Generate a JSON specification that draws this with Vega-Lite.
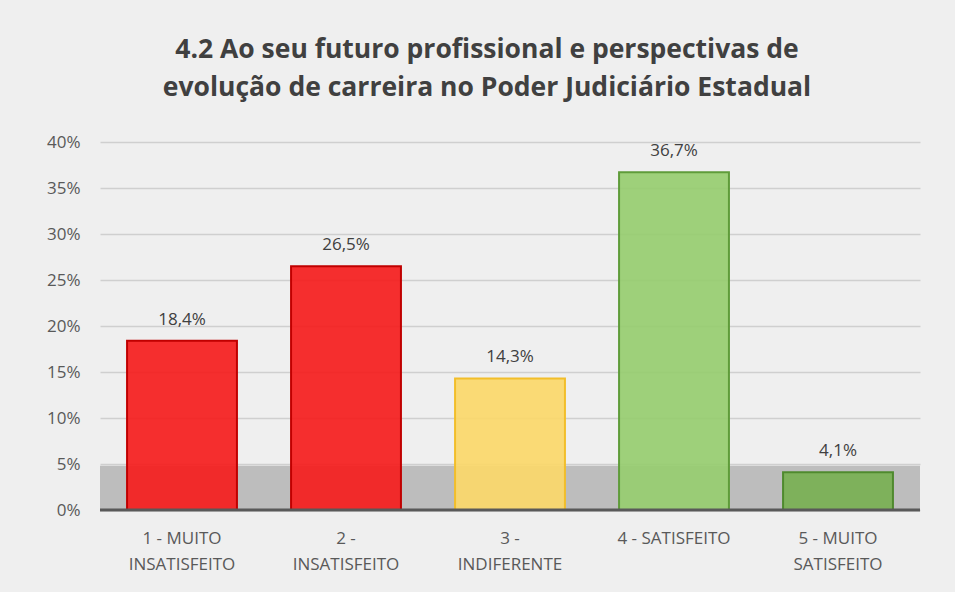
{
  "$schema": "https://vega.github.io/schema/vega-lite/v6.json",
  "autosize": {"type": "none"},
  "width": 820,
  "height": 368,
  "padding": {"left": 100, "top": 142, "right": 35, "bottom": 82},
  "background": "#efefef",
  "config": {
    "locale": {"number": {"decimal": ",", "thousands": ".", "grouping": [3], "currency": ["R$", ""]}},
    "font": "Open Sans",
    "view": {"stroke": null},
    "axisY": {"grid": true, "gridColor": "#cfcfcf", "gridWidth": 1.5, "gridOpacity": 1}
  },
  "title": {
    "text": ["4.2  Ao seu futuro profissional e perspectivas de", "evolução de carreira no Poder Judiciário Estadual"],
    "fontSize": 26.5,
    "fontWeight": "bold",
    "color": "#404040",
    "lineHeight": 38,
    "offset": 32,
    "dx": -23,
    "anchor": "middle"
  },
  "data": {
    "values": [
      {"categoria": "1 - MUITO INSATISFEITO", "percentual": 0.184, "grupo": "insatisfeito"},
      {"categoria": "2 - INSATISFEITO", "percentual": 0.265, "grupo": "insatisfeito"},
      {"categoria": "3 - INDIFERENTE", "percentual": 0.143, "grupo": "indiferente"},
      {"categoria": "4 - SATISFEITO", "percentual": 0.367, "grupo": "satisfeito"},
      {"categoria": "5 - MUITO SATISFEITO", "percentual": 0.041, "grupo": "satisfeito"}
    ]
  },
  "layer": [
    {
      "data": {"values": [{}]},
      "mark": {"type": "rect", "color": "#bdbdbd"},
      "encoding": {
        "y": {
          "datum": 0, "type": "quantitative", "scale": {"domain": [0, 0.4]},
          "axis": {
            "title": null, "format": ".0%", "values": [0, 0.05, 0.1, 0.15, 0.2, 0.25, 0.3, 0.35, 0.4],
            "grid": true, "ticks": false, "domain": false, "labelFontSize": 17, "labelColor": "#595959", "labelPadding": 20
          }
        },
        "y2": {"datum": 0.048}
      }
    },
    {
      "mark": {"type": "bar", "strokeWidth": 2, "fillOpacity": 0.92},
      "encoding": {
        "x": {
          "field": "categoria", "type": "nominal", "sort": null,
          "scale": {"paddingInner": 0.33, "paddingOuter": 0.165},
          "axis": {
            "title": null, "ticks": false, "domain": false, "labelAngle": 0,
            "labelFontSize": 17, "labelColor": "#595959", "labelPadding": 20, "labelLineHeight": 26,
            "labelBaseline": "top",
            "labelExpr": "datum.value == '1 - MUITO INSATISFEITO' ? ['1 - MUITO', 'INSATISFEITO'] : datum.value == '2 - INSATISFEITO' ? ['2 -', 'INSATISFEITO'] : datum.value == '3 - INDIFERENTE' ? ['3 -', 'INDIFERENTE'] : datum.value == '5 - MUITO SATISFEITO' ? ['5 - MUITO', 'SATISFEITO'] : datum.value"
          }
        },
        "y": {
          "field": "percentual", "type": "quantitative",
          "scale": {"domain": [0, 0.4]},
          "axis": {
            "title": null, "format": ".0%", "values": [0, 0.05, 0.1, 0.15, 0.2, 0.25, 0.3, 0.35, 0.4],
            "grid": true, "ticks": false, "domain": false, "labelFontSize": 17, "labelColor": "#595959", "labelPadding": 20
          }
        },
        "fill": {
          "field": "categoria", "type": "nominal", "legend": null,
          "scale": {
            "domain": ["1 - MUITO INSATISFEITO", "2 - INSATISFEITO", "3 - INDIFERENTE", "4 - SATISFEITO", "5 - MUITO SATISFEITO"],
            "range": ["#f51d1d", "#f51d1d", "#fbd86a", "#97cd70", "#78b052"]
          }
        },
        "stroke": {
          "field": "categoria", "type": "nominal", "legend": null,
          "scale": {
            "domain": ["1 - MUITO INSATISFEITO", "2 - INSATISFEITO", "3 - INDIFERENTE", "4 - SATISFEITO", "5 - MUITO SATISFEITO"],
            "range": ["#c00000", "#c00000", "#f2be2a", "#5f9c3a", "#4f8a2e"]
          }
        }
      }
    },
    {
      "mark": {"type": "text", "baseline": "bottom", "dy": -12, "fontSize": 17, "color": "#404040"},
      "encoding": {
        "x": {"field": "categoria", "type": "nominal", "sort": null},
        "y": {"field": "percentual", "type": "quantitative"},
        "text": {"field": "percentual", "type": "quantitative", "format": ".1%"}
      }
    },
    {
      "data": {"values": [{}]},
      "mark": {"type": "rule", "color": "#595959", "strokeWidth": 3},
      "encoding": {"y": {"datum": 0, "type": "quantitative"}}
    }
  ]
}
